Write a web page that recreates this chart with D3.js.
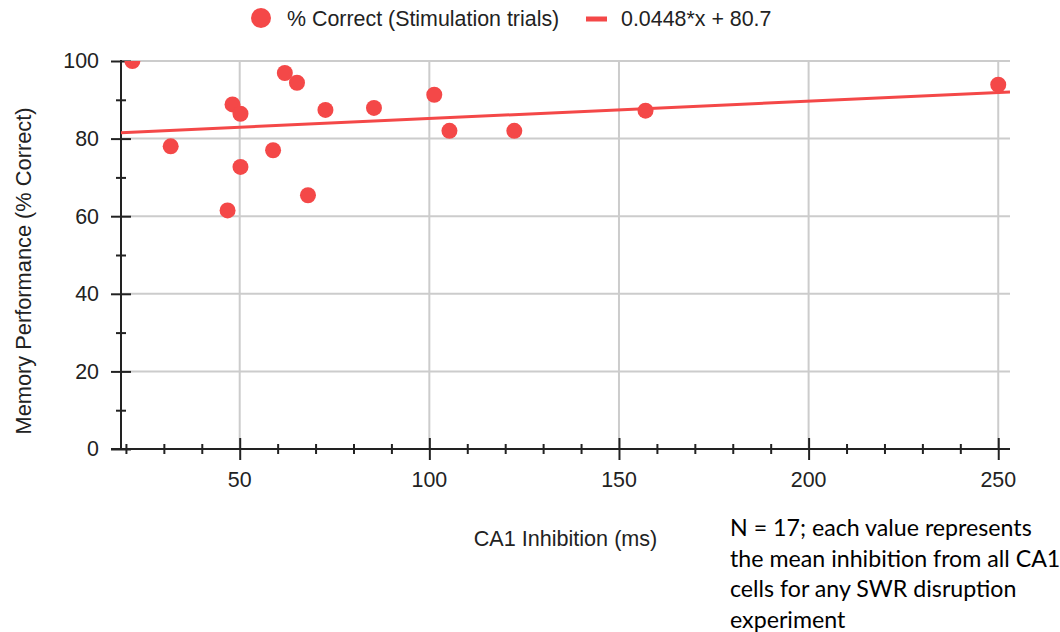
<!DOCTYPE html>
<html>
<head>
<meta charset="utf-8">
<script src="https://cdn.jsdelivr.net/npm/d3@7"></script>
<style>
  html, body { margin: 0; padding: 0; background: #fff; }
  svg { display: block; }
</style>
</head>
<body>
<svg id="chart" width="1060" height="632"></svg>
<script>
// ---- Data ----
const inhibitionMs = [21.7, 31.8, 46.8, 48.1, 50.2, 50.2, 58.8, 61.9, 65.1, 68.0, 72.6, 85.4, 101.3, 105.3, 122.4, 157.0, 250.0];
const percentCorrect = [100, 78.0, 61.5, 88.8, 86.4, 72.7, 77.0, 96.9, 94.4, 65.4, 87.4, 87.9, 91.3, 82.0, 82.0, 87.2, 93.9];
const trendSlope = 0.0448;
const trendIntercept = 80.7;
const xMajorTicks = [50, 100, 150, 200, 250];
const xMinorTicks = [20, 30, 40, 60, 70, 80, 90, 110, 120, 130, 140, 160, 170, 180, 190, 210, 220, 230, 240];
const yMajorTicks = [0, 20, 40, 60, 80, 100];
const yMinorTicks = [10, 30, 50, 70, 90];
const seriesLabel = "% Correct (Stimulation trials)";
const trendLabel = "0.0448*x + 80.7";
const xTitle = "CA1 Inhibition (ms)";
const yTitle = "Memory Performance (% Correct)";
const noteLines = [
  "N = 17; each value represents",
  "the mean inhibition from all CA1",
  "cells for any SWR disruption",
  "experiment"
];

// ---- Layout ----
const plot = { left: 121, right: 1010, top: 61, bottom: 449 };
const red = "#f44848";
const gridColor = "#cccccc";
const axisColor = "#222";
const font = "Arial, 'Liberation Sans', sans-serif";
const fs = 21.4;

const svg = d3.select("#chart");

const x = d3.scaleLinear().domain([18.7, 253.1]).range([plot.left, plot.right]);
const y = d3.scaleLinear().domain([0, 100]).range([plot.bottom, plot.top]);

svg.append("defs").append("clipPath").attr("id", "clip")
  .append("rect")
  .attr("x", plot.left).attr("y", plot.top)
  .attr("width", plot.right - plot.left).attr("height", plot.bottom - plot.top);

// Gridlines
const grid = svg.append("g");
grid.selectAll(".hg").data(yMajorTicks.filter(d => d > 0)).join("line")
  .attr("x1", plot.left).attr("x2", plot.right)
  .attr("y1", d => y(d)).attr("y2", d => y(d))
  .attr("stroke", gridColor).attr("stroke-width", 2);
grid.selectAll(".vg").data(xMajorTicks).join("line")
  .attr("x1", d => x(d)).attr("x2", d => x(d))
  .attr("y1", plot.top).attr("y2", plot.bottom)
  .attr("stroke", gridColor).attr("stroke-width", 2);

// Axes using d3 axis generators
const yAxisMajor = d3.axisLeft(y).tickValues(yMajorTicks).tickSizeInner(-20).tickSizeOuter(0).tickFormat("");
const yAxisMinor = d3.axisLeft(y).tickValues(yMinorTicks).tickSizeInner(-10).tickSizeOuter(0).tickFormat("");
const gY1 = svg.append("g").attr("transform", `translate(${plot.left - 10},0)`).call(yAxisMajor);
const gY2 = svg.append("g").attr("transform", `translate(${plot.left - 5},0)`).call(yAxisMinor);
[gY1, gY2].forEach(g => {
  g.select(".domain").remove();
  g.selectAll(".tick line").attr("stroke", axisColor).attr("stroke-width", 2);
});
svg.append("line")
  .attr("x1", plot.left).attr("x2", plot.left)
  .attr("y1", plot.top - 1).attr("y2", plot.bottom + 1)
  .attr("stroke", axisColor).attr("stroke-width", 2);

const xAxisMajor = d3.axisBottom(x).tickValues(xMajorTicks).tickSizeInner(-22).tickSizeOuter(0).tickFormat("");
const xAxisMinor = d3.axisBottom(x).tickValues(xMinorTicks).tickSizeInner(-10).tickSizeOuter(0).tickFormat("");
const gX1 = svg.append("g").attr("transform", `translate(0,${plot.bottom + 11})`).call(xAxisMajor);
const gX2 = svg.append("g").attr("transform", `translate(0,${plot.bottom + 5})`).call(xAxisMinor);
[gX1, gX2].forEach(g => {
  g.select(".domain").remove();
  g.selectAll(".tick line").attr("stroke", axisColor).attr("stroke-width", 2);
});
svg.append("line")
  .attr("x1", plot.left - 10).attr("x2", plot.right)
  .attr("y1", plot.bottom).attr("y2", plot.bottom)
  .attr("stroke", axisColor).attr("stroke-width", 2);

// Tick labels
svg.append("g").selectAll("text").data(yMajorTicks).join("text")
  .attr("x", 99).attr("y", d => y(d)).attr("dy", "0.35em")
  .attr("text-anchor", "end")
  .attr("font-family", font).attr("font-size", fs).attr("fill", "#222")
  .text(d => d);
svg.append("g").selectAll("text").data(xMajorTicks).join("text")
  .attr("x", d => x(d)).attr("y", 487)
  .attr("text-anchor", "middle")
  .attr("font-family", font).attr("font-size", fs).attr("fill", "#222")
  .text(d => d);

// Axis titles
svg.append("text")
  .attr("x", (plot.left + plot.right) / 2).attr("y", 546)
  .attr("text-anchor", "middle")
  .attr("font-family", font).attr("font-size", 21.6).attr("fill", "#222")
  .text(xTitle);
svg.append("text")
  .attr("transform", "translate(31,271) rotate(-90)")
  .attr("text-anchor", "middle")
  .attr("font-family", font).attr("font-size", 21.8).attr("fill", "#222")
  .text(yTitle);

// Trend line
const plotArea = svg.append("g").attr("clip-path", "url(#clip)");
const xd = x.domain();
const trendPts = xd.map(v => [v, trendSlope * v + trendIntercept]);
plotArea.append("path")
  .datum(trendPts)
  .attr("d", d3.line().x(d => x(d[0])).y(d => y(d[1])))
  .attr("fill", "none").attr("stroke", red).attr("stroke-width", 3);

// Points
plotArea.selectAll("circle").data(inhibitionMs.map((v, i) => [v, percentCorrect[i]])).join("circle")
  .attr("cx", d => x(d[0])).attr("cy", d => y(d[1])).attr("r", 8)
  .attr("fill", red);

// Legend
const lg = svg.append("g");
lg.append("circle").attr("cx", 261).attr("cy", 18).attr("r", 10).attr("fill", red);
lg.append("text").attr("x", 287).attr("y", 25.5)
  .attr("font-family", font).attr("font-size", fs).attr("fill", "#222")
  .text(seriesLabel);
lg.append("rect").attr("x", 586).attr("y", 16.5).attr("width", 21).attr("height", 5).attr("fill", red);
lg.append("text").attr("x", 621).attr("y", 25.5)
  .attr("font-family", font).attr("font-size", fs).attr("fill", "#222")
  .text(trendLabel);

// Note
svg.append("g").selectAll("text").data(noteLines).join("text")
  .attr("x", 730).attr("y", (d, i) => 536 + i * 30.7)
  .attr("font-family", "Lato, 'Open Sans', sans-serif").attr("font-size", 23.2).attr("fill", "#000")
  .text(d => d);
</script>
</body>
</html>
